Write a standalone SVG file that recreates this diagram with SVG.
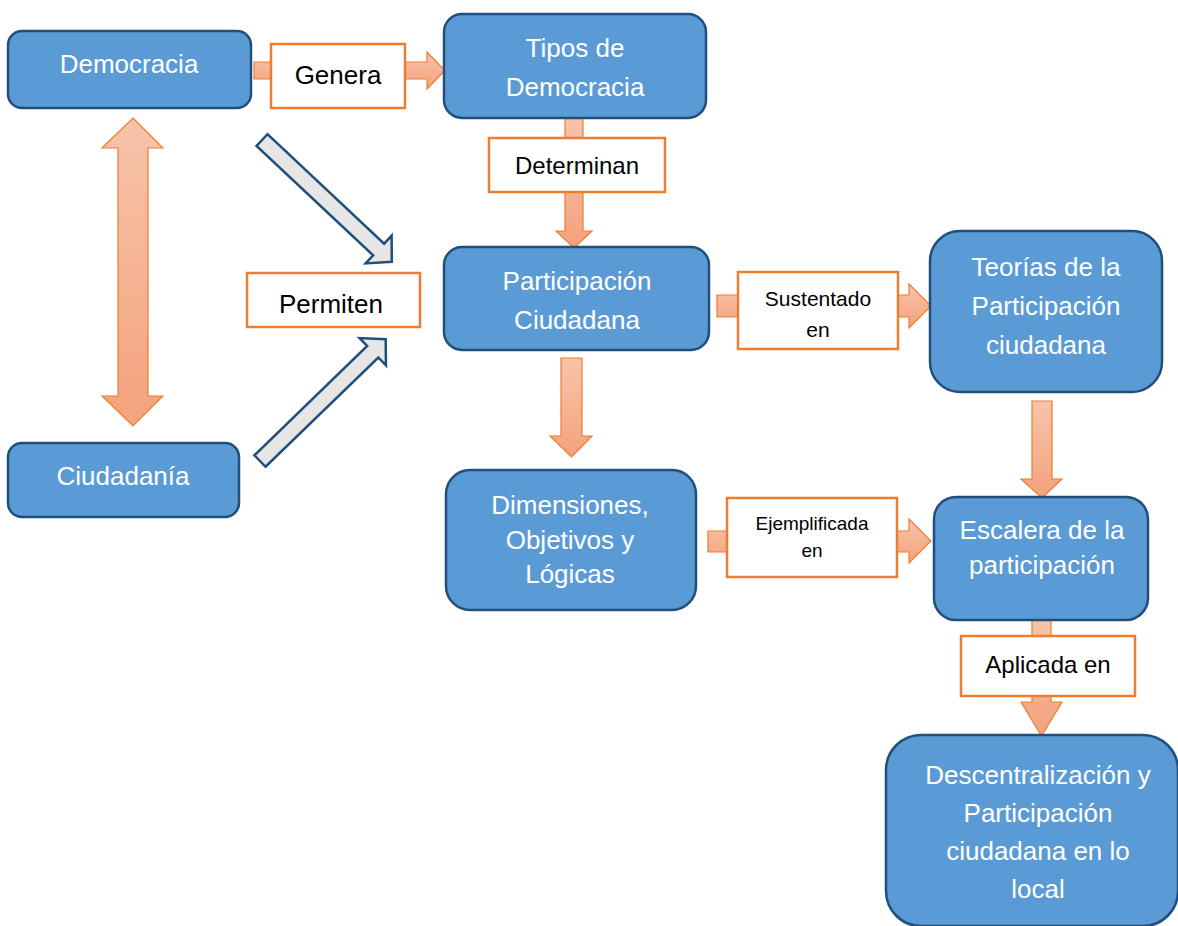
<svg xmlns="http://www.w3.org/2000/svg" width="1178" height="926" viewBox="0 0 1178 926">
<style>
.box{fill:#5B9BD5;stroke:#204F7C;stroke-width:2.5}
.bt{fill:#FFFFFF;font-family:"Liberation Sans",Arial,sans-serif;font-size:26px;text-anchor:middle}
.lab{fill:#FFFFFF;stroke:#ED7D31;stroke-width:2.5}
.lt{fill:#000000;font-family:"Liberation Sans",Arial,sans-serif;text-anchor:middle}
.oa{fill:url(#og);stroke:#ED7D31;stroke-width:1.2}
.ga{fill:#E7E6E6;stroke:#204F7C;stroke-width:2.5;stroke-linejoin:miter}
</style>
<defs>
<linearGradient id="og" x1="0" y1="0" x2="0" y2="1">
<stop offset="0" stop-color="#F7C4AA"/>
<stop offset="1" stop-color="#F4A27C"/>
</linearGradient>
</defs>
<rect width="1178" height="926" fill="#FFFFFF"/>
<g id="connectors">
<polygon class="oa" points="254,62 427,62 427,52 445,70.5 427,89 427,79 254,79"/>
<polygon class="oa" points="565,118 583,118 583,231 592,231 574,248 556,231 565,231"/>
<polygon class="oa" points="717,295 909,295 909,284 931,306 909,328 909,317 717,317"/>
<polygon class="oa" points="708,531 909,531 909,519 931,541 909,563 909,552 708,552"/>
<polygon class="oa" points="561,358 582,358 582,436 592,436 571.5,457 550,436 561,436"/>
<polygon class="oa" points="1032,401 1052,401 1052,479 1062,479 1042,498 1021,479 1032,479"/>
<polygon class="oa" points="1032,620 1051,620 1051,702 1062,702 1041.5,736 1021,702 1032,702"/>
<polygon class="oa" points="133,118 163,148 148,148 148,396 163,396 133,426 102,396 118,396 118,148 102,148"/>
<polygon class="ga" transform="translate(262,140) rotate(43.2)" points="0,-8 160,-8 160,-19 178,0 160,19 160,8 0,8"/>
<polygon class="ga" transform="translate(260,461) rotate(-44.1)" points="0,-8 157,-8 157,-19 175,0 157,19 157,8 0,8"/>
</g>
<g id="label-genera">
<rect class="lab" x="271" y="44" width="134" height="64"/>
<text class="lt" x="338" y="84" font-size="26">Genera</text>
</g>
<g id="label-determinan">
<rect class="lab" x="489" y="138" width="176" height="54"/>
<text class="lt" x="577" y="174" font-size="24">Determinan</text>
</g>
<g id="label-permiten">
<rect class="lab" x="247" y="273" width="173" height="54"/>
<text class="lt" x="331" y="313" font-size="26">Permiten</text>
</g>
<g id="label-sustentado">
<rect class="lab" x="738" y="272" width="160" height="77"/>
<text class="lt" x="818" y="306" font-size="21">Sustentado</text>
<text class="lt" x="818" y="337" font-size="21">en</text>
</g>
<g id="label-ejemplificada">
<rect class="lab" x="727" y="498" width="170" height="79"/>
<text class="lt" x="812" y="530" font-size="19">Ejemplificada</text>
<text class="lt" x="812" y="557" font-size="19">en</text>
</g>
<g id="label-aplicada">
<rect class="lab" x="961" y="636" width="174" height="60"/>
<text class="lt" x="1048" y="673" font-size="24">Aplicada en</text>
</g>
<g id="node-democracia">
<rect class="box" x="8" y="31" width="243" height="77" rx="14"/>
<text class="bt" x="129" y="73">Democracia</text>
</g>
<g id="node-ciudadania">
<rect class="box" x="8" y="443" width="231" height="74" rx="14"/>
<text class="bt" x="123" y="485">Ciudadanía</text>
</g>
<g id="node-tipos">
<rect class="box" x="444" y="14" width="262" height="104" rx="18"/>
<text class="bt" x="575" y="57">Tipos de</text>
<text class="bt" x="575" y="96">Democracia</text>
</g>
<g id="node-participacion">
<rect class="box" x="444" y="247" width="265" height="103" rx="18"/>
<text class="bt" x="577" y="290">Participación</text>
<text class="bt" x="577" y="329">Ciudadana</text>
</g>
<g id="node-dimensiones">
<rect class="box" x="446" y="470" width="250" height="140" rx="24"/>
<text class="bt" x="570" y="514" font-size="24">Dimensiones,</text>
<text class="bt" x="570" y="549" font-size="24">Objetivos y</text>
<text class="bt" x="570" y="583" font-size="24">Lógicas</text>
</g>
<g id="node-teorias">
<rect class="box" x="930" y="231" width="232" height="161" rx="30"/>
<text class="bt" x="1046" y="276">Teorías de la</text>
<text class="bt" x="1046" y="315">Participación</text>
<text class="bt" x="1046" y="354">ciudadana</text>
</g>
<g id="node-escalera">
<rect class="box" x="934" y="497" width="214" height="123" rx="22"/>
<text class="bt" x="1042" y="539" font-size="24.5">Escalera de la</text>
<text class="bt" x="1042" y="574" font-size="24.5">participación</text>
</g>
<g id="node-descentralizacion">
<rect class="box" x="886" y="735" width="292" height="191" rx="35"/>
<text class="bt" x="1038" y="784">Descentralización y</text>
<text class="bt" x="1038" y="822">Participación</text>
<text class="bt" x="1038" y="860">ciudadana en lo</text>
<text class="bt" x="1038" y="898">local</text>
</g>
</svg>
